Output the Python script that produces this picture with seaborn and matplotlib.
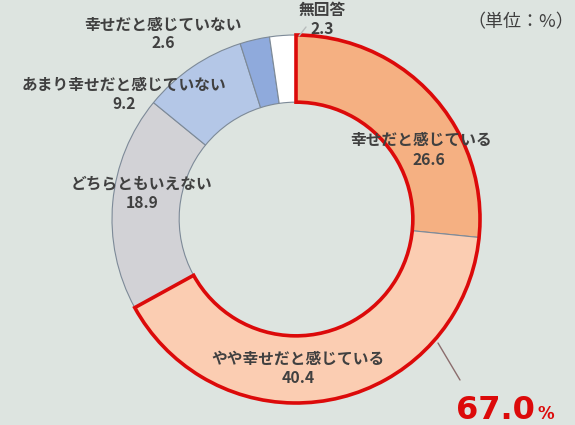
import matplotlib
matplotlib.use("Agg")
import matplotlib.pyplot as plt
from matplotlib.patches import Wedge
import seaborn as sns

# ---- data ----
categories = ["幸せだと感じている", "やや幸せだと感じている", "どちらともいえない",
              "あまり幸せだと感じていない", "幸せだと感じていない", "無回答"]
values = [26.6, 40.4, 18.9, 9.2, 2.6, 2.3]
value_labels = ["26.6", "40.4", "18.9", "9.2", "2.6", "2.3"]
unit_label = "（単位：%）"

# ---- style ----
bg = "#dde4e0"
colors = ["#f5b082", "#fbcdb2", "#d2d2d6", "#b4c7e7", "#8faadc", "#ffffff"]
text_color = "#404040"
red = "#dc0a0a"

sns.set_theme(style="white")
plt.rcParams["font.family"] = ["Noto Sans CJK JP", "DejaVu Sans"]

W, H = 575, 425
fig = plt.figure(figsize=(W / 100, H / 100), dpi=100, facecolor=bg)

cx, cy, R = 296, 219, 184
lim = 1.1
side = 2 * lim * R
ax = fig.add_axes([(cx - side / 2) / W, (H - cy - side / 2) / H, side / W, side / H])
ax.set_facecolor(bg)

ring = 0.365
ax.pie(values, colors=colors, startangle=90, counterclock=False, radius=1,
       wedgeprops=dict(width=ring, edgecolor="#7d8a98", linewidth=0.8))
ax.set_xlim(-lim, lim)
ax.set_ylim(-lim, lim)
ax.set_aspect("equal")
ax.axis("off")

# red outline around the two "happy" categories
total = sum(values)
happy = values[0] + values[1]
theta1 = 90 - 360 * happy / total
ax.add_patch(Wedge((0, 0), 1, theta1, 90, width=ring, fill=False,
                   edgecolor=red, linewidth=2.6, joinstyle="miter", zorder=5))


def px(x, y):
    return x / W, 1 - y / H


label_pos = [((421, 140), (429, 160)),
             ((298, 359), (298, 378)),
             ((142, 183), (142, 203)),
             ((124, 85), (124, 104)),
             ((163, 25), (163, 43)),
             ((322, 10), (322, 29))]
fs = 11.3
for cat, val, (p1, p2) in zip(categories, value_labels, label_pos):
    fig.text(*px(*p1), cat, ha="center", va="center", fontsize=fs,
             color=text_color, fontweight="bold")
    fig.text(*px(*p2), val, ha="center", va="center", fontsize=fs,
             color=text_color, fontweight="bold")

fig.text(*px(521, 22), unit_label, ha="center", va="center", fontsize=13,
         color=text_color)

# leader lines
for (x1, y1), (x2, y2), c in [((438, 343), (460, 380), "#8b6d6d"),
                              ((299, 36), (306, 27), "#b8bcbc")]:
    fig.add_artist(plt.Line2D([x1 / W, x2 / W], [1 - y1 / H, 1 - y2 / H],
                              color=c, linewidth=1.0))

# total of happy
fig.text(*px(456, 419), f"{happy:.1f}", ha="left", va="baseline", fontsize=23,
         color=red, fontweight="bold", family="DejaVu Sans")
fig.text(*px(537, 419), "%", ha="left", va="baseline", fontsize=12,
         color=red, fontweight="bold", family="DejaVu Sans")

fig.savefig("out.png", dpi=100, facecolor=bg)
